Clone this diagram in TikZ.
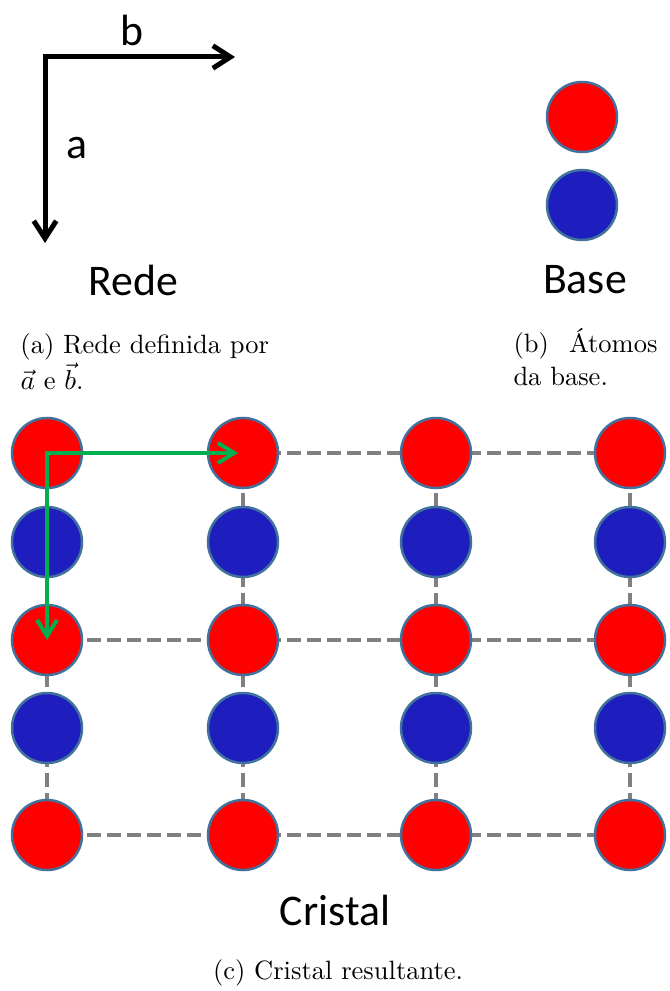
\documentclass[tikz,border=0pt]{standalone}
\usepackage{fontspec}
\newfontfamily\slidefont{Carlito}
\usetikzlibrary{arrows.meta,backgrounds}
\definecolor{atomred}{RGB}{255,0,0}
\definecolor{atomblue}{RGB}{30,30,190}
\definecolor{atomedge}{RGB}{65,113,156}
\definecolor{vecgreen}{RGB}{0,176,80}
\definecolor{bondgray}{RGB}{128,128,128}
\tikzset{%
  atom/.style = { circle, draw=atomedge, line width=1pt, minimum size=28pt, inner sep=0pt },
  bond/.style = { draw=bondgray, line width=1.8pt, dash pattern=on 5.6pt off 2.4pt },
  axis/.style = { draw=black, line width=2pt, >={Straight Barb[length=7pt,width=9pt]} },
  latvec/.style = { draw=vecgreen, line width=1.6pt, >={Straight Barb[length=6.5pt,width=8pt]} },
  slide/.style = { font=\slidefont\fontsize{17.5}{21}\selectfont },
  caption/.style = { font=\fontsize{10.6}{13.2}\selectfont, inner sep=0pt, align=left }
}

\begin{document}
\begin{tikzpicture}[x=0.4pt,y=-0.4pt]
  \useasboundingbox (0,0) rectangle (670,991);

  % Rede: lattice vectors
  \coordinate (origin) at (45,57);
  \coordinate (btip) at (235,57);
  \coordinate (atip) at (45,243);
  \draw[axis,<->] (atip) -- (origin) -- (btip);
  \node[slide] (blabel) at (132,30) {b};
  \node[slide] (alabel) at (77,148) {a};
  \node[slide] (rede) at (133,280) {Rede};
  \node[caption,anchor=north west] (capa) at (20,333)
    {(a) Rede definida por\\$\vec{a}$ e $\vec{b}$.};

  % Base: two atoms
  \node[atom,fill=atomred] (basered) at (582,117) {};
  \node[atom,fill=atomblue] (baseblue) at (582,205) {};
  \node[slide] (base) at (585,280) {Base};
  \node[caption,anchor=north west,text width=57.6pt] (capb) at (513,328)
    {(b)\hfill Átomos\\da base.};

  % Cristal: base repeated on the lattice
  \foreach \c/\x in {1/47,2/243,3/436,4/630} {
    \foreach \r/\y/\kind in {1/453/red,2/542/blue,3/640/red,4/728/blue,5/835/red} {
      \node[atom,fill=atom\kind] (atom-\c-\r) at (\x,\y) {};
    }
  }

  \begin{scope}[on background layer]
    \foreach \r in {1,3,5}
      \draw[bond] (atom-1-\r.center) -- (atom-4-\r.center);
    \foreach \c in {1,...,4}
      \draw[bond] (atom-\c-1.center) -- (atom-\c-5.center);
  \end{scope}

  \draw[latvec,<->,shorten >=2pt] (atom-1-3.center) -- (atom-1-1.center) -- (atom-2-1.center);

  \node[slide] (cristal) at (335,910) {Cristal};
  \node[caption] (capc) at (338,973) {(c) Cristal resultante.};

\end{tikzpicture}
\end{document}
